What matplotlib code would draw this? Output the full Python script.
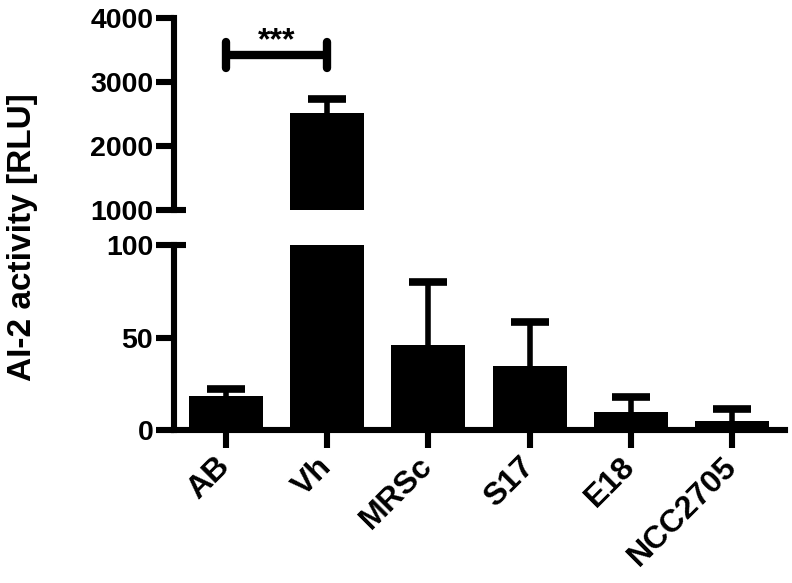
import matplotlib
matplotlib.use("Agg")
import matplotlib.pyplot as plt
import numpy as np

categories = ["AB", "Vh", "MRSc", "S17", "E18", "NCC2705"]
means = [18.3, 2516, 45.7, 34.4, 9.7, 4.8]
errors = [3.7, 218, 34.5, 24.2, 8.0, 6.5]
top_ticks = [1000, 2000, 3000, 4000]
bottom_ticks = [0, 50, 100]
sig_label = "***"
sig_pair = (0, 1)
sig_y = 3420

plt.rcParams['font.family'] = ['Liberation Sans', 'DejaVu Sans']
plt.rcParams['font.weight'] = 'bold'

W, H = 792, 583
fig = plt.figure(figsize=(W / 100, H / 100), dpi=100)

left = 174 / W
right = 785 / W
ax_top = fig.add_axes([left, 1 - 210 / H, right - left, (210 - 18) / H])
ax_bot = fig.add_axes([left, 1 - 430 / H, right - left, (430 - 245) / H])

x = np.arange(len(categories))
m = np.array(means)
e = np.array(errors)
spine_lw = 4.4
fs = 20.5

for ax in (ax_top, ax_bot):
    ax.bar(x, m, width=0.73, color='black', zorder=2)
    ax.vlines(x, m, m + e, color='black', lw=4, zorder=1)
    ax.plot(x, m + e, ls='none', marker='_', ms=28, mew=5.5, color='black',
            zorder=1)
    ax.set_xlim(-0.51, 5.52)
    for s in ('top', 'right'):
        ax.spines[s].set_visible(False)
    ax.spines['left'].set_linewidth(spine_lw)
    ax.spines['bottom'].set_linewidth(spine_lw)
    ax.tick_params(axis='y', length=13, width=spine_lw, labelsize=fs, pad=2)
    ax.tick_params(axis='x', length=13, width=spine_lw, labelsize=23, pad=10)

ax_top.set_ylim(1000, 4000)
ax_top.set_yticks(top_ticks)
ax_top.spines['bottom'].set_visible(False)
ax_top.tick_params(axis='x', bottom=False, labelbottom=False)
ax_top.set_yticklabels([str(t) for t in top_ticks], fontweight='bold')

ax_bot.set_ylim(0, 100)
ax_bot.set_yticks(bottom_ticks)
ax_bot.set_yticklabels([str(t) for t in bottom_ticks], fontweight='bold')
ax_bot.set_xticks(x)
ax_bot.set_xticklabels(categories, rotation=45, ha='right', va='center',
                       rotation_mode='anchor', fontweight='bold')

# axis break markers
for ax, yv in ((ax_top, top_ticks[0]), (ax_bot, bottom_ticks[-1])):
    ax.plot([0, 0.02], [yv, yv], transform=ax.get_yaxis_transform(),
            color='black', lw=spine_lw, clip_on=False, solid_capstyle='butt')

# significance bracket
x0, x1 = sig_pair
ax_top.plot([x0, x1], [sig_y, sig_y], color='black', lw=6, clip_on=False,
            solid_capstyle='butt')
for xv in (x0, x1):
    ax_top.plot([xv, xv], [sig_y - 200, sig_y + 200], color='black', lw=6,
                solid_capstyle='round', clip_on=False)
ax_top.text((x0 + x1) / 2, sig_y - 10, sig_label, ha='center', va='bottom',
            fontsize=23, fontweight='bold')

fig.text(23 / W, 1 - 237 / H, "AI-2 activity [RLU]", rotation=90,
         ha='center', va='center', fontsize=24, fontweight='bold')

fig.savefig("out.png", dpi=100)
